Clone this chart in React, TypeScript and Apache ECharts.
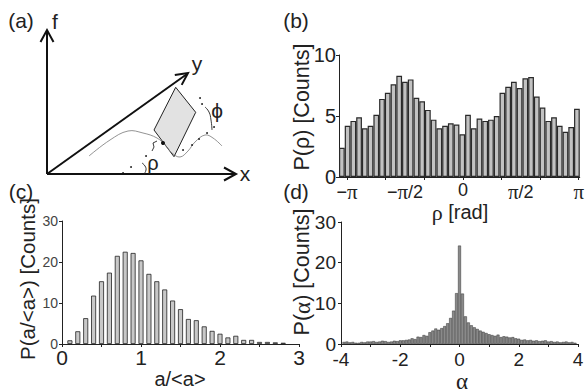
import React, { useEffect, useRef } from "react";
import * as echarts from "echarts";

const PI = Math.PI;

// ---- panel (b): P(rho) ----
const rhoMin = -3.36;
const rhoMax = 3.17;
const rhoBinStart = -3.36;
const rhoBinWidth = 0.1555;
const rhoCounts = [
  2.4, 4.2, 4.6, 4.9, 4.0, 4.2, 5.1, 6.4, 6.9, 7.6, 8.3, 7.8, 8.0, 6.5, 6.2,
  5.5, 4.7, 4.0, 4.2, 4.4, 4.3, 3.5, 5.1, 4.0, 4.8, 4.6, 4.7, 5.0, 6.9, 7.4,
  7.8, 7.3, 8.1, 8.2, 6.6, 5.7, 4.6, 4.9, 4.2, 3.7, 4.1, 5.6,
];
const rhoTickValues = [-PI, (-2 * PI) / 3, -PI / 3, 0, PI / 3, (2 * PI) / 3, PI];
const rhoLabelValues = [-PI, -PI / 2, 0, PI / 2, PI];
const rhoLabels = ["{s|−}{g|π}", "{s|−}{g|π}{s|/2}", "{s|0}", "{g|π}{s|/2}", "{g|π}"];

// ---- panel (c): P(a/<a>) ----
const aCenters = [
  0.1, 0.2, 0.3, 0.4, 0.5, 0.6, 0.7, 0.8, 0.9, 1.0, 1.1, 1.2, 1.3, 1.4, 1.5,
  1.6, 1.7, 1.8, 1.9, 2.0, 2.1, 2.2, 2.3, 2.4, 2.5, 2.6, 2.7, 2.8,
];
const aCounts = [
  0.9, 3.1, 6.3, 11.8, 15.3, 17.4, 21.5, 22.5, 22.2, 20.4, 17.1, 15.3, 13.3,
  10.6, 8.5, 6.1, 5.8, 4.3, 3.2, 2.5, 1.6, 2.0, 1.0, 1.0, 0.5, 0.5, 0.4, 0.3,
];
const aTickValues = [0, 0.5, 1, 1.5, 2, 2.5, 3];
const aLabelValues = [0, 1, 2, 3];

// ---- panel (d): P(alpha) ----
const alphaBinWidth = 0.1;
const alphaFirstCenter = -3.9;
const alphaCounts = [
  // -3.9 .. -2.0
  0.5, 0.6, 0.4, 0.5, 0.3, 0.3, 0.5, 0.4, 0.6, 0.6, 0.7, 0.5, 0.6, 0.8, 0.7,
  0.5, 0.6, 0.8, 0.7, 0.9,
  // -1.9 .. -1.0
  0.9, 1.0, 1.1, 1.4, 1.2, 1.8, 1.7, 2.2, 2.0, 2.9,
  // -0.9 .. -0.1
  3.3, 3.8, 3.5, 3.9, 4.4, 5.1, 6.4, 8.2, 12.5,
  // 0
  24.2,
  // 0.1 .. 3.9
  12.4, 6.8, 5.3, 4.6, 4.1, 3.7, 3.3, 3.0, 2.7, 2.4, 2.2, 2.0, 2.3, 1.7, 1.9,
  1.8, 1.6, 1.7, 1.4, 1.3, 1.0, 1.1, 0.9, 1.0, 0.8, 0.9, 0.7, 0.8, 0.9, 0.6,
  0.7, 0.5, 0.6, 0.4, 0.5, 0.6, 0.4, 0.5, 0.3,
];
const alphaLabelValues = [-4, -2, 0, 2, 4];

const TXT = "#222";
const SANS = "'Liberation Sans', Arial, sans-serif";
const SERIF = "'Liberation Serif', 'Times New Roman', serif";

const gridB = { left: 339, top: 55, width: 241, height: 122 };
const gridC = { left: 62, top: 221, width: 237, height: 123 };
const gridD = { left: 341, top: 222, width: 237, height: 122 };

function text(x: number, y: number, t: string, size: number, extra: any = {}, family = SANS) {
  return {
    type: "text",
    x,
    y,
    rotation: extra.rotation || 0,
    style: {
      text: t,
      fontSize: size,
      fontFamily: family,
      fill: TXT,
      align: "center",
      verticalAlign: "middle",
      textAlign: "center",
      textVerticalAlign: "middle",
      rich: extra.rich,
    },
  };
}

function line(x1: number, y1: number, x2: number, y2: number, w = 2, c = "#111") {
  return { type: "line", shape: { x1, y1, x2, y2 }, style: { stroke: c, lineWidth: w } };
}
function poly(points: number[][], w = 2, c = "#111", smooth = 0) {
  return { type: "polyline", shape: { points, smooth }, style: { stroke: c, lineWidth: w, fill: null } };
}
function dot(x: number, y: number, r = 1) {
  return { type: "circle", shape: { cx: x, cy: y, r }, style: { fill: "#111" } };
}

export default function App() {
  const ref = useRef<HTMLDivElement>(null);
  useEffect(() => {
    document.body.style.margin = "0";
    const chart = echarts.init(ref.current!, null, { renderer: "svg" });

    const axisLineStyle = { show: true, onZero: false, lineStyle: { color: "#222", width: 1 } };
    const tickStyle = { show: true, length: 3, lineStyle: { color: "#222", width: 1 } };

    const option: any = {
      animation: false,
      backgroundColor: "#fff",
      grid: [
        { ...gridB, containLabel: false },
        { ...gridC, containLabel: false },
        { ...gridD, containLabel: false },
      ],
      xAxis: [
        {
          gridIndex: 0,
          type: "value",
          min: rhoMin,
          max: rhoMax,
          axisLine: axisLineStyle,
          axisTick: { ...tickStyle, customValues: rhoTickValues },
          splitLine: { show: false },
          axisLabel: {
            customValues: rhoLabelValues,
            margin: 4,
            formatter: (v: number) => {
              const i = rhoLabelValues.findIndex((x) => Math.abs(x - v) < 1e-6);
              return i >= 0 ? rhoLabels[i] : "";
            },
            rich: {
              s: { fontFamily: SANS, fontSize: 18, color: TXT },
              g: { fontFamily: SERIF, fontSize: 21, color: TXT },
            },
          },
        },
        {
          gridIndex: 1,
          type: "value",
          min: 0,
          max: 3,
          axisLine: axisLineStyle,
          axisTick: { ...tickStyle, customValues: aTickValues },
          splitLine: { show: false },
          axisLabel: {
            customValues: aLabelValues,
            margin: 3,
            fontFamily: SANS,
            fontSize: 21,
            color: TXT,
          },
        },
        {
          gridIndex: 2,
          type: "value",
          min: -4,
          max: 4,
          interval: 1,
          axisLine: axisLineStyle,
          axisTick: tickStyle,
          splitLine: { show: false },
          axisLabel: {
            customValues: alphaLabelValues,
            margin: 6,
            fontFamily: SANS,
            fontSize: 19,
            color: TXT,
          },
        },
      ],
      yAxis: [
        {
          gridIndex: 0,
          type: "value",
          min: 0,
          max: 10,
          interval: 5,
          axisLine: axisLineStyle,
          axisTick: tickStyle,
          splitLine: { show: false },
          axisLabel: { margin: 3, fontFamily: SANS, fontSize: 20, color: TXT },
        },
        {
          gridIndex: 1,
          type: "value",
          min: 0,
          max: 30,
          interval: 10,
          axisLine: axisLineStyle,
          axisTick: tickStyle,
          splitLine: { show: false },
          axisLabel: { margin: 4, fontFamily: SANS, fontSize: 14, color: "#444" },
        },
        {
          gridIndex: 2,
          type: "value",
          min: 0,
          max: 30,
          interval: 10,
          axisLine: axisLineStyle,
          axisTick: tickStyle,
          splitLine: { show: false },
          axisLabel: { margin: 5, fontFamily: SANS, fontSize: 19, color: TXT },
        },
      ],
      series: [
        {
          type: "bar",
          xAxisIndex: 0,
          yAxisIndex: 0,
          barWidth: (gridB.width * rhoBinWidth) / (rhoMax - rhoMin),
          data: rhoCounts.map((v, i) => [rhoBinStart + (i + 0.5) * rhoBinWidth, v]),
          itemStyle: { color: "#c2c2c2", borderColor: "#2a2a2a", borderWidth: 1.2 },
        },
        {
          type: "bar",
          xAxisIndex: 1,
          yAxisIndex: 1,
          barWidth: 5,
          data: aCounts.map((v, i) => [aCenters[i], v]),
          itemStyle: { color: "#c8c8c8", borderColor: "#222", borderWidth: 0.8 },
        },
        {
          type: "bar",
          xAxisIndex: 2,
          yAxisIndex: 2,
          barWidth: (gridD.width * alphaBinWidth) / 8,
          data: alphaCounts.map((v, i) => [alphaFirstCenter + i * alphaBinWidth, v]),
          itemStyle: { color: "#8a8a8a", borderColor: "#333", borderWidth: 0.5 },
        },
      ],
      graphic: [
        // panel letters
        text(21, 20, "(a)", 21),
        text(296, 20, "(b)", 21),
        text(21, 191, "(c)", 21),
        text(296, 191, "(d)", 21),
        // axis titles
        text(302, 107, "P(ρ) [Counts]", 21.5, { rotation: PI / 2 }),
        text(460, 212, "{g|ρ} [rad]", 20, {
          rich: { g: { fontFamily: SERIF, fontSize: 22, fill: TXT, color: TXT } },
        }),
        text(27, 279, "P(a/<a>) [Counts]", 20.5, { rotation: PI / 2 }),
        text(180, 379, "a/<a>", 20),
        text(302, 272, "P({g|α}) [Counts]", 21.5, {
          rotation: PI / 2,
          rich: { g: { fontFamily: SERIF, fontSize: 23, fill: TXT, color: TXT } },
        }),
        text(462, 381, "α", 23, {}, SERIF),
        // ---- diagram (a) ----
        line(47, 174, 47, 31),
        poly([[40.5, 42], [47, 30], [53.5, 42]]),
        line(47, 174, 235, 174),
        poly([[224, 167.5], [236, 174], [224, 180.5]]),
        line(47, 174, 187, 74),
        poly([[174.8, 75.1], [188, 73], [181.7, 84.9]]),
        text(55, 21, "f", 21),
        text(197, 63, "y", 21),
        text(245, 173, "x", 21),
        {
          type: "polygon",
          shape: { points: [[175.7, 87.3], [195.7, 112.3], [174, 156.7], [154, 130]] },
          style: { fill: "#e2e2e2", stroke: "#222", lineWidth: 1 },
        },
        poly(
          [
            [89, 156], [110, 140], [128, 131], [143, 133], [157, 138], [165, 145],
            [172, 153], [180, 157], [188, 151], [195, 142], [205, 135], [213, 138], [222, 146],
          ],
          0.8,
          "#777",
          0.4
        ),
        dot(163, 143, 2),
        poly([[157, 141], [153, 143], [154, 147], [152, 151]], 0.9, "#222"),
        // rho angle marks
        dot(123, 173, 0.9),
        dot(131, 167, 0.9),
        dot(146, 156, 0.9),
        poly([[142, 163], [145, 166], [146, 170], [144, 174]], 0.9, "#222", 0.5),
        text(153, 163, "ρ", 20),
        // phi angle marks
        dot(200, 98, 0.9),
        dot(202, 104, 0.9),
        dot(214, 127, 0.9),
        dot(207, 133, 0.9),
        dot(183, 150, 0.9),
        dot(192, 145, 0.9),
        dot(199, 139, 0.9),
        poly([[205, 107], [209, 112], [211, 120], [212, 130]], 0.9, "#222", 0.5),
        text(217, 110, "ϕ", 21),
      ],
    };
    chart.setOption(option);
    return () => chart.dispose();
  }, []);
  return <div ref={ref} style={{ width: 587, height: 392 }} />;
}
